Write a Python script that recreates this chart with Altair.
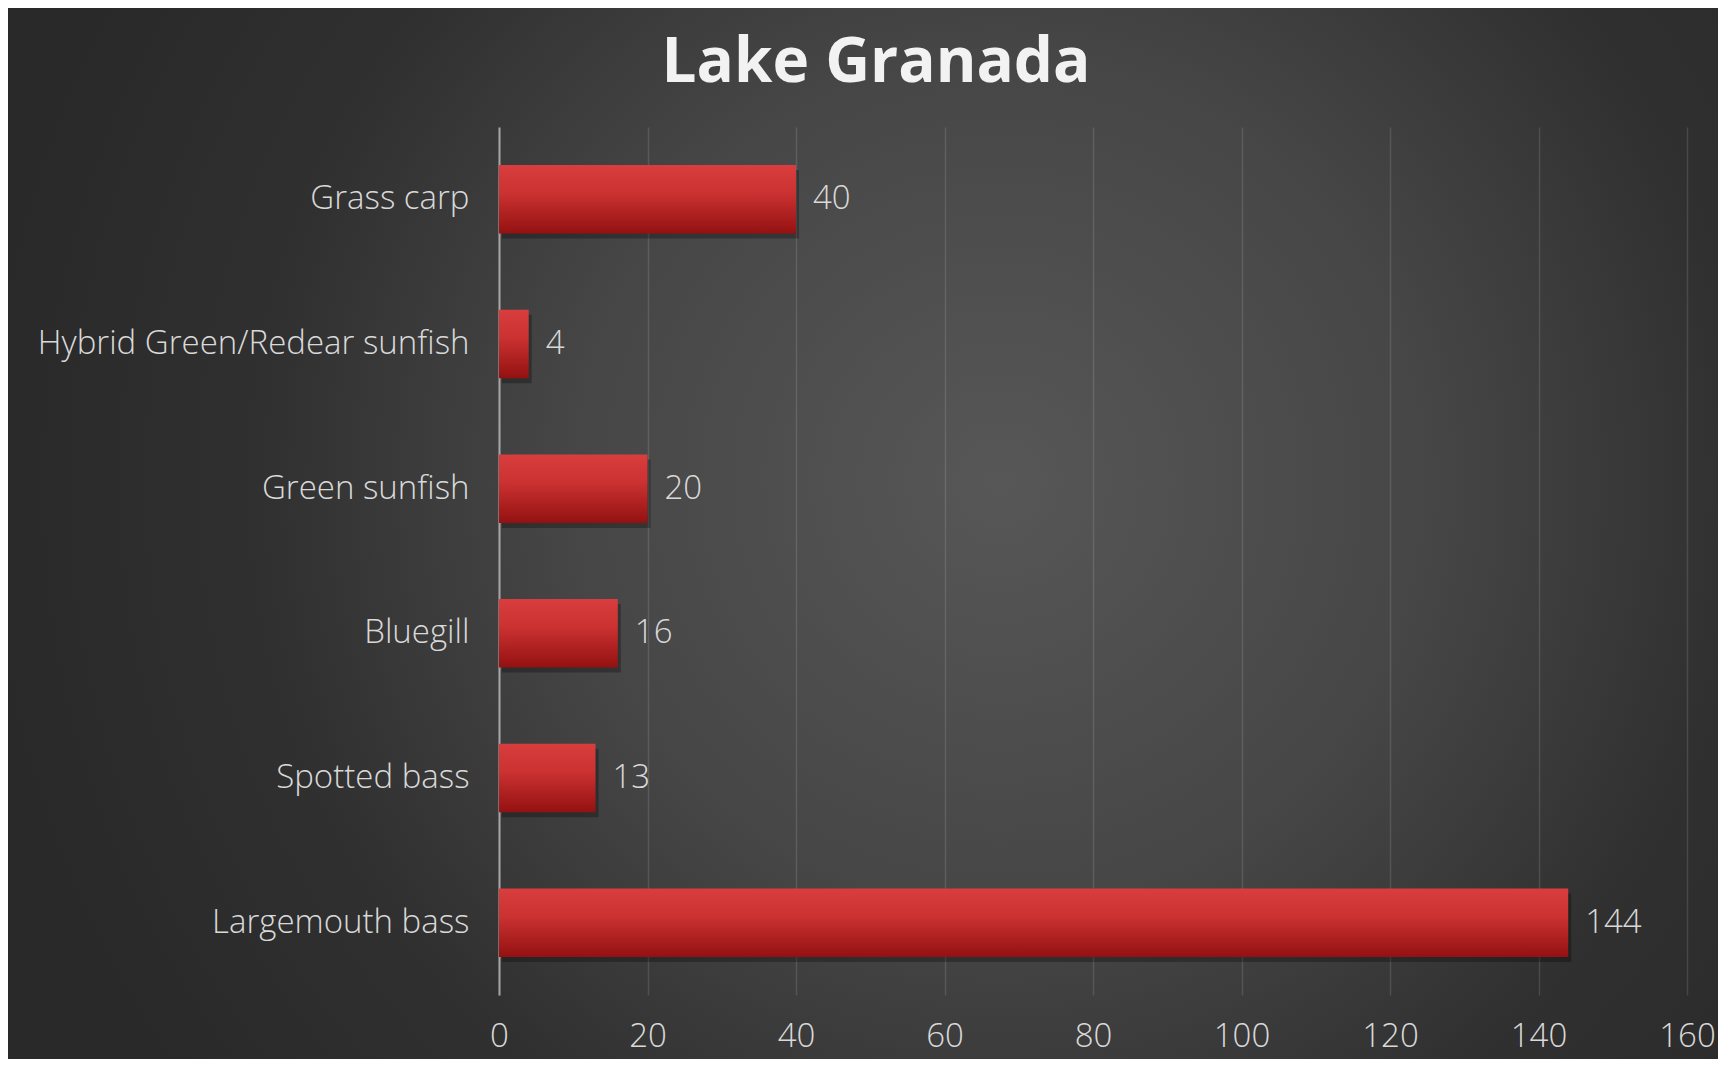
import altair as alt
import pandas as pd

# ---- data ----
species = ["Grass carp", "Hybrid Green/Redear sunfish", "Green sunfish",
           "Bluegill", "Spotted bass", "Largemouth bass"]
counts = [40, 4, 20, 16, 13, 144]
x_ticks = [0, 20, 40, 60, 80, 100, 120, 140, 160]
title_text = "Lake Granada"

df = pd.DataFrame({"species": species, "count": counts})

W, H = 1710, 1051
FONT = "Open Sans"
LABEL = "#d9d9d9"
FS = 33

x_scale = alt.Scale(domain=[0, 160], range=[491, 1679], nice=False)
y_scale = alt.Scale(domain=species, range=[119, 987],
                    paddingInner=0.527, paddingOuter=0.2635)

y_axis = alt.Axis(title=None, orient="left", offset=-491,
                  domainColor="#a6a6a6", domainWidth=2,
                  ticks=False, labelPadding=30, labelFontSize=FS,
                  labelFontWeight=300, labelColor=LABEL, labelFont=FONT,
                  labelLimit=1000, grid=False)

# top-oriented axis carries only the vertical gridlines
x_grid_axis = alt.Axis(title=None, orient="top", values=x_ticks, labels=False,
                       domain=False, ticks=False, grid=True, gridColor="#ffffff",
                       gridOpacity=0.12, gridWidth=1.5)
# bottom-oriented axis carries only the tick labels
x_label_axis = alt.Axis(title=None, orient="bottom", offset=-64, values=x_ticks,
                        domain=False, ticks=False, grid=False, labelPadding=25,
                        labelFontSize=FS, labelFontWeight=300, labelColor=LABEL,
                        labelFont=FONT, labelFlush=False, labelOverlap=False)

bar_grad = alt.Gradient(
    gradient="linear", x1=0, x2=0, y1=0, y2=1,
    stops=[alt.GradientStop(offset=0, color="#d93d3d"),
           alt.GradientStop(offset=0.4, color="#cc3232"),
           alt.GradientStop(offset=1, color="#941111")])

data = alt.Chart(df)
Y = alt.Y("species:N", sort=species, scale=y_scale, axis=y_axis)

shadow = data.mark_bar(color="#000000", opacity=0.28, xOffset=3, yOffset=5).encode(
    y=Y, x=alt.X("count:Q", scale=x_scale, axis=x_grid_axis))
bars = data.mark_bar(color=bar_grad).encode(
    y=Y, x=alt.X("count:Q", scale=x_scale, axis=x_label_axis))
labels = data.mark_text(align="left", baseline="middle", dx=17, fontSize=FS,
                        fontWeight=300, color=LABEL, font=FONT).encode(
    y=Y, x=alt.X("count:Q", scale=x_scale, axis=None), text="count:Q")

bg_expr = ("{gradient: 'radial', x1: 0.58, y1: 0.47, r1: 0, x2: 0.58, y2: 0.47, r2: 0.6, "
           "stops: [{offset: 0, color: '#575757'}, {offset: 0.42, color: '#464646'}, "
           "{offset: 0.6, color: '#393939'}, {offset: 0.72, color: '#303030'}, "
           "{offset: 1, color: '#292929'}]}")

chart = alt.layer(shadow, bars, labels).resolve_axis(x="independent").properties(
    width=W, height=H,
    autosize=alt.AutoSizeParams(type="none"),
    padding=0,
    background="#2a2a2a",
    title=alt.TitleParams(title_text, fontSize=62, font=FONT, fontWeight="bold",
                          color="#f2f2f2", anchor="middle", frame="group",
                          offset=0, baseline="alphabetic", dx=13, dy=136),
).configure_view(fill={"expr": bg_expr}, strokeWidth=0)

chart.save("out.html", embed_options={"renderer": "svg", "actions": False})
